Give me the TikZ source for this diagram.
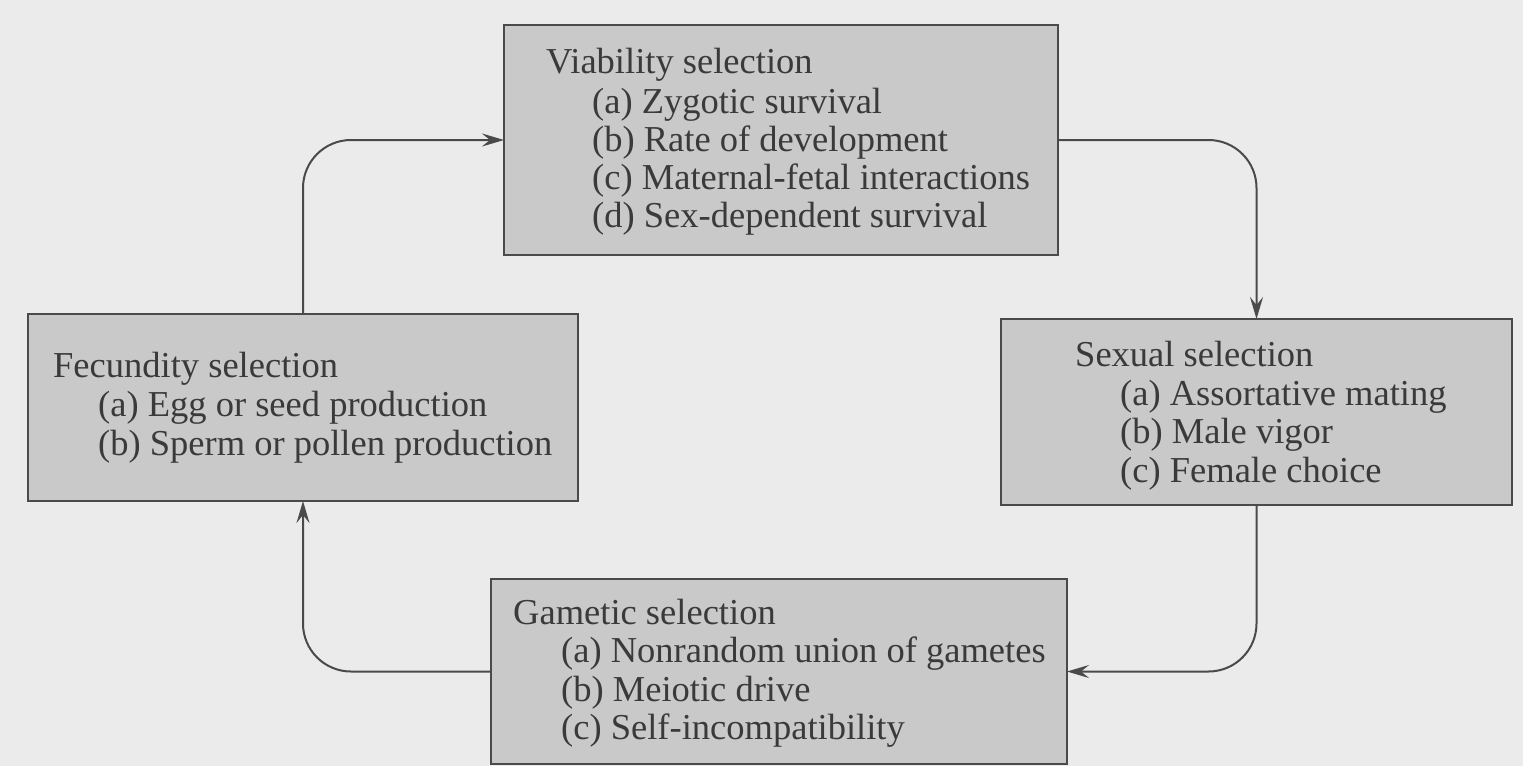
\documentclass[tikz,border=0pt]{standalone}
\usepackage{fontspec}
\setmainfont{Liberation Serif}
\usetikzlibrary{arrows.meta}
\definecolor{bg}{HTML}{EBEBEB}
\definecolor{boxfill}{HTML}{C9C9C9}
\definecolor{ink}{HTML}{4A4A4A}
\definecolor{txt}{HTML}{3A3A3A}
\begin{document}
\begin{tikzpicture}[x=1pt,y=-1pt,
  selbox/.style={draw=ink, line width=2.2pt, fill=boxfill, rectangle, inner sep=0pt, outer sep=0pt, anchor=north west},
  ln/.style={anchor=base west, inner sep=0pt, text=txt, font=\fontsize{36.5}{38.5}\selectfont},
  conn/.style={draw=ink, line width=2pt, rounded corners=48pt, -{Stealth[length=22pt,width=13pt,inset=8pt]}}]
\fill[bg] (0,0) rectangle (1523,766);
\useasboundingbox (0,0) rectangle (1523,766);
% boxes
\node[selbox, minimum width=554pt, minimum height=230pt] (via) at (504,25) {};
\node[selbox, minimum width=511pt, minimum height=186pt] (sex) at (1001,319) {};
\node[selbox, minimum width=576pt, minimum height=185pt] (gam) at (491,579) {};
\node[selbox, minimum width=550pt, minimum height=187pt] (fec) at (28,314) {};
% texts
\node[ln] (via0) at (546,73) {Viability selection};
\node[ln] (via1) at (592,113) {(a) Zygotic survival};
\node[ln] (via2) at (592,151) {(b) Rate of development};
\node[ln] (via3) at (592,189) {(c) Maternal-fetal interactions};
\node[ln] (via4) at (592,227) {(d) Sex-dependent survival};
\node[ln] (sex0) at (1075,366) {Sexual selection};
\node[ln] (sex1) at (1120,405) {(a) Assortative mating};
\node[ln] (sex2) at (1120,443) {(b) Male vigor};
\node[ln] (sex3) at (1120,482) {(c) Female choice};
\node[ln] (gam0) at (513,624) {Gametic selection};
\node[ln] (gam1) at (561,662) {(a) Nonrandom union of gametes};
\node[ln] (gam2) at (561,701) {(b) Meiotic drive};
\node[ln] (gam3) at (561,739) {(c) Self-incompatibility};
\node[ln] (fec0) at (53,377) {Fecundity selection};
\node[ln] (fec1) at (98,416) {(a) Egg or seed production};
\node[ln] (fec2) at (98,455) {(b) Sperm or pollen production};
% connectors
\draw[conn] (via.east) -| (sex.north);
\draw[conn] (sex.south) |- (gam.east);
\draw[conn] (gam.west) -| (fec.south);
\draw[conn] (fec.north) |- (via.west);
\end{tikzpicture}
\end{document}
